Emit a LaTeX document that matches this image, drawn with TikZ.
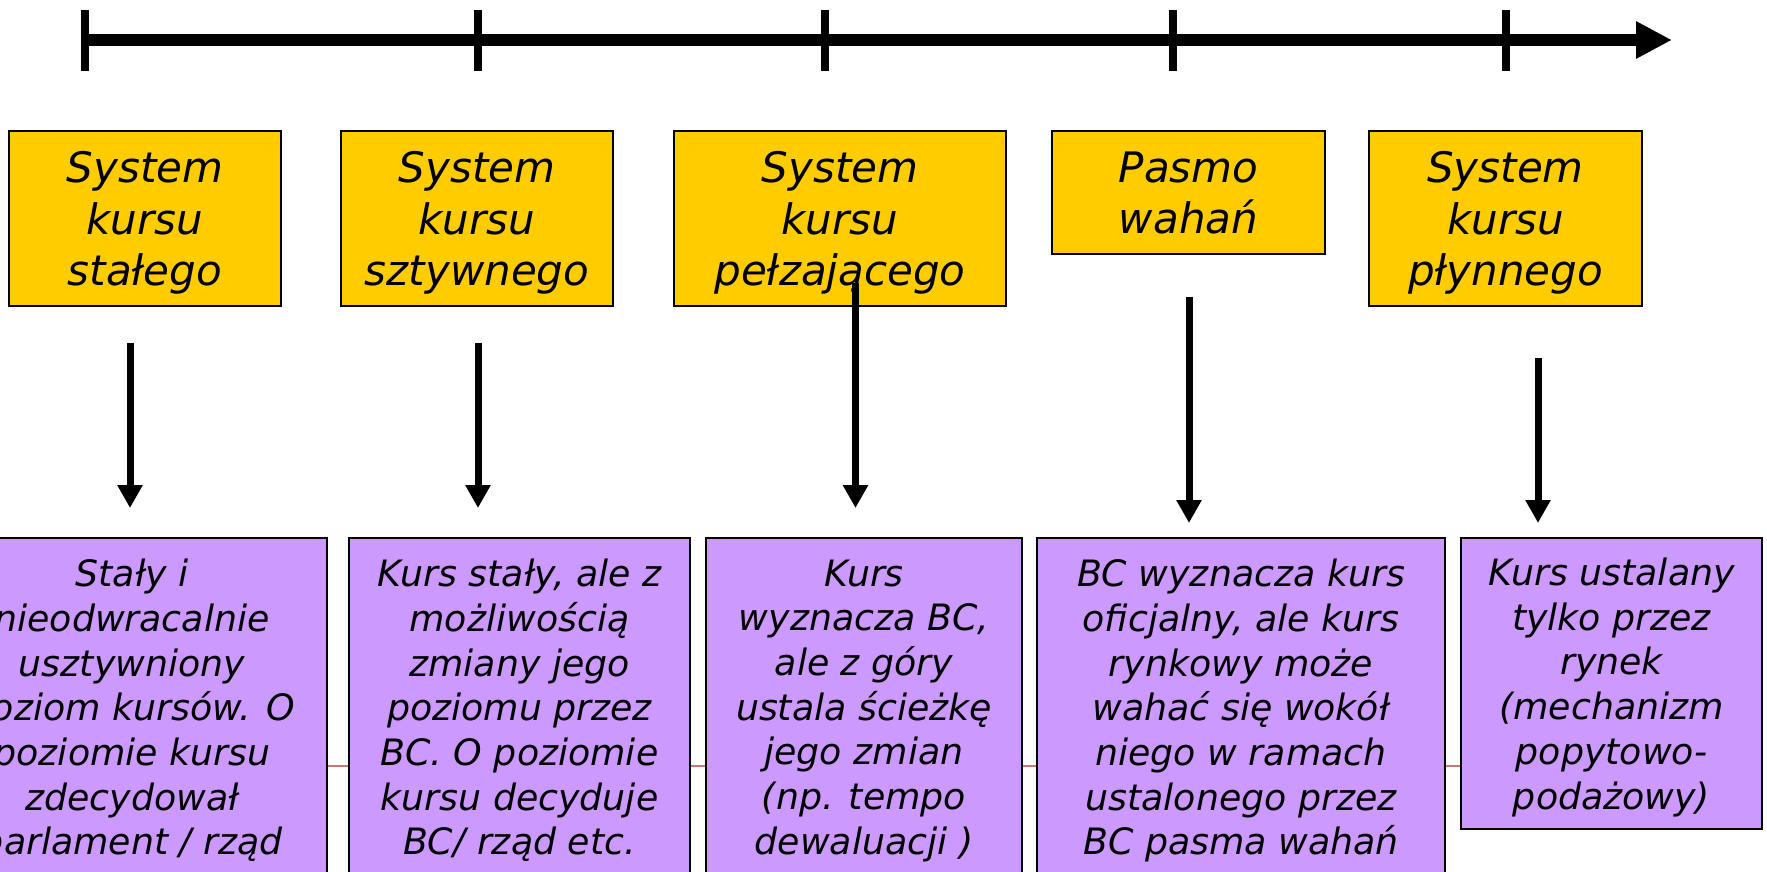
\documentclass[tikz,border=0pt]{standalone}
\usepackage{fontspec}
\setmainfont{DejaVu Sans}
\usetikzlibrary{arrows.meta}
\definecolor{ybg}{HTML}{FFCC00}
\definecolor{pbg}{HTML}{CC99FF}
\definecolor{thinred}{RGB}{196,120,120}
\begin{document}
\begin{tikzpicture}[x=0.5pt,y=-0.5pt,
  ybox/.style={draw=black,line width=0.75pt,fill=ybg,inner sep=0pt,align=center,text depth=0pt,
    font=\fontsize{21}{25.8}\selectfont\itshape},
  pbox/.style={draw=black,line width=0.75pt,fill=pbg,inner sep=0pt,align=center,text depth=0pt,
    font=\fontsize{18.15}{22.35}\selectfont\itshape},
  tick/.style={line width=4pt},
  axisline/.style={line width=6pt,-{Triangle[width=17.5pt,length=18pt]}},
  darrow/.style={line width=3.5pt,-{Triangle[width=12pt,length=11.5pt]}}]
\fill[white] (0,0) rectangle (1767,872);
\useasboundingbox (0,0) rectangle (1767,872);
% axis
\coordinate (axs) at (85,40);
\coordinate (axe) at (1672,40);
\draw[axisline] (axs) -- (axe);
\foreach \x in {85,478,825,1173,1506}{
  \draw[tick] (\x,10) -- (\x,71);
}
% thin line behind purple boxes
\coordinate (tl1) at (0,766);
\coordinate (tl2) at (1461,766);
\draw[thinred,line width=0.8pt] (tl1) -- (tl2);
% yellow boxes
\node[ybox,minimum width=136pt,minimum height=87.5pt] (y1) at (145,218.5) {System\\kursu\\stałego};
\node[ybox,minimum width=136pt,minimum height=87.5pt] (y2) at (477,218.5) {System\\kursu\\sztywnego};
\node[ybox,minimum width=166pt,minimum height=87.5pt] (y3) at (840,218.5) {System\\kursu\\pełzającego};
\node[ybox,minimum width=136.5pt,minimum height=61.5pt] (y4) at (1188.5,192.5) {Pasmo\\wahań};
\node[ybox,minimum width=136.5pt,minimum height=87.5pt] (y5) at (1505.5,218.5) {System\\kursu\\płynnego};
% purple boxes
\node[pbox,minimum width=195pt,minimum height=169pt] (p1) at (132,707) {Stały i\\nieodwracalnie\\usztywniony\\poziom kursów. O\\poziomie kursu\\zdecydował\\parlament / rząd};
\node[pbox,minimum width=170.5pt,minimum height=169pt] (p2) at (519.5,707) {Kurs stały, ale z\\możliwością\\zmiany jego\\poziomu przez\\BC. O poziomie\\kursu decyduje\\BC/ rząd etc.};
\node[pbox,minimum width=158pt,minimum height=169pt] (p3) at (864,707) {Kurs\\wyznacza BC,\\ale z góry\\ustala ścieżkę\\jego zmian\\(np. tempo\\dewaluacji )};
\node[pbox,minimum width=204pt,minimum height=169pt] (p4) at (1241,707) {BC wyznacza kurs\\oficjalny, ale kurs\\rynkowy może\\wahać się wokół\\niego w ramach\\ustalonego przez\\BC pasma wahań};
\node[pbox,minimum width=150.5pt,minimum height=145.5pt] (p5) at (1611.5,683.5) {Kurs ustalany\\tylko przez\\rynek\\(mechanizm\\popytowo-\\podażowy)};
% arrows
\coordinate (a1s) at (130,343);   \coordinate (a1e) at (130,508);
\coordinate (a2s) at (478,343);   \coordinate (a2e) at (478,508);
\coordinate (a3s) at (855.5,283); \coordinate (a3e) at (855.5,508);
\coordinate (a4s) at (1189,297);  \coordinate (a4e) at (1189,523);
\coordinate (a5s) at (1538,358);  \coordinate (a5e) at (1538,523);
\draw[darrow] (a1s) -- (a1e);
\draw[darrow] (a2s) -- (a2e);
\draw[darrow] (a3s) -- (a3e);
\draw[darrow] (a4s) -- (a4e);
\draw[darrow] (a5s) -- (a5e);
\end{tikzpicture}
\end{document}
